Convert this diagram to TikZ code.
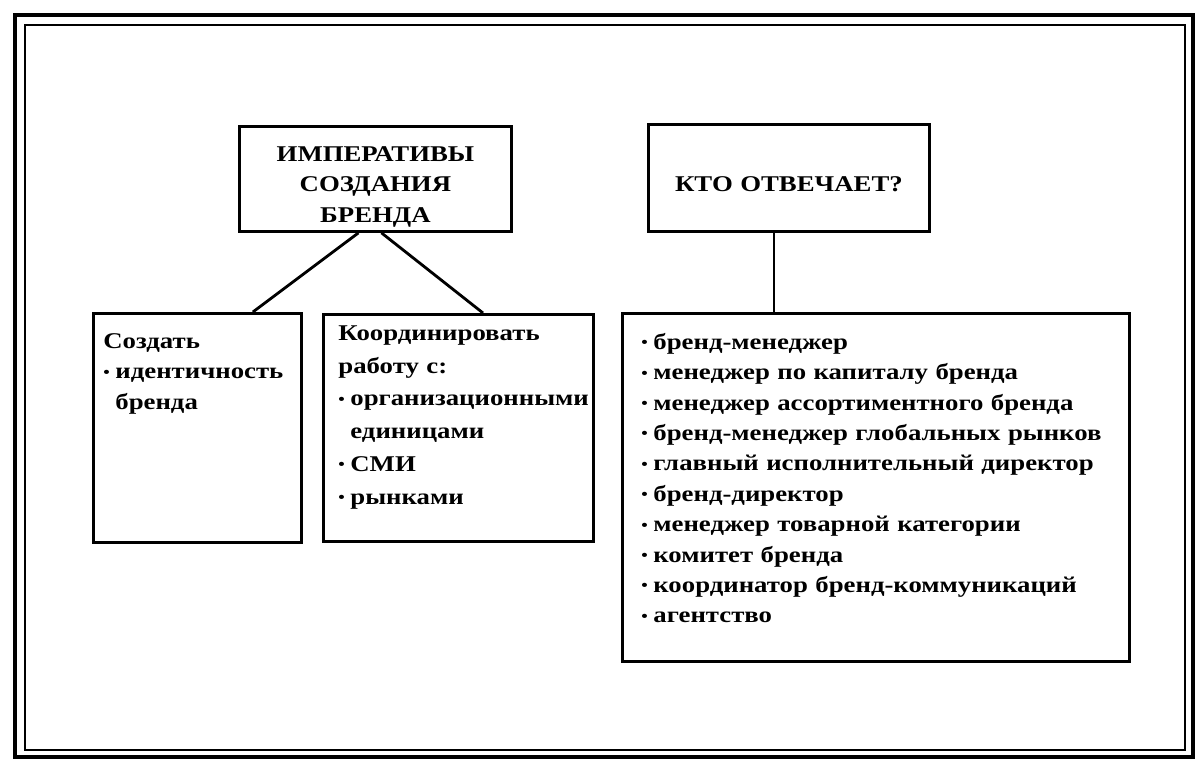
\documentclass[tikz,border=0pt]{standalone}
\usepackage{fontspec}
\setmainfont{Liberation Serif}[FakeStretch=1.19]
\usetikzlibrary{positioning,calc}

\newcommand{\litem}[1]{\mbox{\makebox[0.3cm][l]{\raisebox{0.04cm}{\fontsize{11}{11}\selectfont•}}#1}}

\tikzstyle{block} = [rectangle, draw, line width=2pt, inner sep=0pt, anchor=north west, font=\bfseries\fontsize{16}{21.6}\selectfont]
\tikzstyle{head} = [block, align=center, inner xsep=0pt]
\tikzstyle{list} = [block, align=left]

\begin{document}
\begin{tikzpicture}[x=0.025cm, y=-0.025cm]
        \tikzset{link/.style={line width=2pt}}
        \useasboundingbox (0,0) rectangle (1197,765);
        % double frame round the page
        \draw[line width=2.4pt] (15,15) rectangle (1193,757);
        \draw[line width=1pt] (25,25) rectangle (1185,750);
        % top nodes
        \node (n1) at (238,125) [head, text width=6.8cm, text height=0.875cm, text depth=1.75cm] {ИМПЕРАТИВЫ\\СОЗДАНИЯ\\БРЕНДА};
        \node (n2) at (647,123) [head, text width=7.025cm, text height=1.675cm, text depth=1cm] {КТО ОТВЕЧАЕТ?};
        % lists
        \node (n3) at (92,312) [list, inner xsep=0.25cm, text width=4.7cm, text height=0.875cm, text depth=4.85cm] {
            Создать\\
            \litem{идентичность}\\
            \hspace*{0.3cm}бренда
};
        \node (n4) at (322,313) [list, inner xsep=0.375cm, text width=6cm, text height=0.65cm, text depth=5.025cm,
            font=\bfseries\fontsize{16}{23.3}\selectfont] {
            Координировать\\
            работу с:\\
            \litem{организационными}\\
            \hspace*{0.3cm}единицами\\
            \litem{СМИ}\\
            \litem{рынками}
};
        \node (n5) at (621,312) [list, inner xsep=0.475cm, text width=11.725cm, text height=0.9cm, text depth=7.8cm] {
            \litem{бренд-менеджер}\\
            \litem{менеджер по капиталу бренда}\\
            \litem{менеджер ассортиментного бренда}\\
            \litem{бренд-менеджер глобальных рынков}\\
            \litem{главный исполнительный директор}\\
            \litem{бренд-директор}\\
            \litem{менеджер товарной категории}\\
            \litem{комитет бренда}\\
            \litem{координатор бренд-коммуникаций}\\
            \litem{агентство}
};
        % connectors
        \draw[link] ($(n1.south)+(-17,0)$) -- ($(n3.north east)+(-50,0)$);
        \draw[link] ($(n1.south)+(6,0)$) -- ($(n4.north west)+(161,0)$);
        \draw[link] ($(n2.south)+(-15,0)$) coordinate (c1) -- (c1 |- n5.north);
    \end{tikzpicture}
\end{document}
